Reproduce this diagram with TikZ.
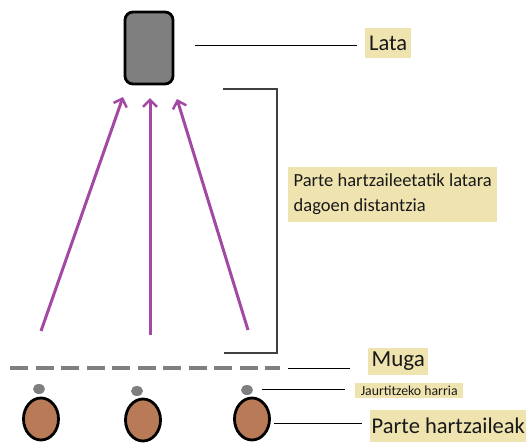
\documentclass[tikz,border=0pt]{standalone}
\usepackage{fontspec}
\setmainfont{Carlito}
\usetikzlibrary{arrows.meta,shapes.geometric}
\definecolor{tan}{HTML}{EFE4B0}
\definecolor{paintpurple}{HTML}{A349A4}
\definecolor{paintgray}{HTML}{7F7F7F}
\definecolor{paintbrown}{HTML}{B97A57}
\tikzset{
  label box/.style={fill=tan, anchor=west, inner xsep=1.5pt, inner ysep=0pt, text=black!90},
  leader/.style={draw=black, line width=1pt},
  throw/.style={draw=paintpurple, line width=3pt, -{Straight Barb[length=7pt, width=14pt, line width=2.5pt]}},
  person/.style={ellipse, draw=black, line width=2.8pt, fill=paintbrown, minimum width=35pt, minimum height=42pt, inner sep=0pt},
  stone/.style={ellipse, fill=paintgray, minimum width=12pt, minimum height=10pt, inner sep=0pt},
}
\begin{document}
\begin{tikzpicture}[x=1pt, y=-1pt]
  \useasboundingbox (0,0) rectangle (530,442);

  % the can
  \node (lata) [draw=black, line width=2.8pt, fill=paintgray, rounded corners=8pt,
        minimum width=48pt, minimum height=72pt, inner sep=0pt] at (149,48) {};

  % throws towards the can
  \coordinate (t1) at (41,331);
  \coordinate (t2) at (150,335);
  \coordinate (t3) at (248,330);
  \coordinate (h1) at (123,97);
  \coordinate (h2) at (150,98);
  \coordinate (h3) at (177,99);
  \draw[throw] (t1) -- (h1);
  \draw[throw] (t2) -- (h2);
  \draw[throw] (t3) -- (h3);

  % distance bracket
  \coordinate (b1) at (223,89);
  \coordinate (b2) at (277,89);
  \coordinate (b3) at (277,353);
  \coordinate (b4) at (224,353);
  \draw[draw=black!75, line width=1.5pt] (b1) -- (b2) -- (b3) -- (b4);

  % boundary line
  \coordinate (m1) at (10,368);
  \coordinate (m2) at (280,368);
  \draw[draw=paintgray, line width=4pt, dash pattern=on 18pt off 7.5pt] (m1) -- (m2);

  % stones and participants
  \node (s1) [stone] at (39,389) {};
  \node (s2) [stone] at (137,391) {};
  \node (s3) [stone] at (247,390) {};
  \node (p1) [person] at (41,419) {};
  \node (p2) [person] at (143,420) {};
  \node (p3) [person] at (252,419) {};

  % labels
  \node (llata) [label box, minimum height=30pt, minimum width=46pt, font=\fontsize{22.5}{24}\selectfont] at (365,43) {Lata};
  \node (ldist) [label box, minimum height=55pt, minimum width=209pt, align=left,
        font=\fontsize{18.5}{25}\selectfont] at (288,194.5)
        {Parte hartzaileetatik latara\\dagoen distantzia};
  \node (lmuga) [label box, minimum height=27pt, minimum width=60pt, font=\fontsize{23}{26}\selectfont] at (368,361.5) {Muga};
  \node (lharri) [label box, minimum height=15pt, minimum width=108pt, font=\fontsize{13.8}{15}\selectfont] at (355,390.5) {Jaurtitzeko harria};
  \node (lparte) [label box, minimum height=32pt, minimum width=152pt, font=\fontsize{22.5}{24}\selectfont] at (370,426) {Parte hartzaileak};

  % leader lines
  \coordinate (e1) at (195,45);
  \coordinate (e2) at (288,368);
  \coordinate (e3) at (262,389);
  \coordinate (e4) at (274,423);
  \draw[leader] (e1) -- ([xshift=-8pt]llata.west |- e1);
  \draw[leader] (e2) -- ([xshift=-18pt]lmuga.west |- e2);
  \draw[leader] (e3) -- ([xshift=-10pt]lharri.west |- e3);
  \draw[leader] (e4) -- ([xshift=-8pt]lparte.west |- e4);
\end{tikzpicture}
\end{document}
